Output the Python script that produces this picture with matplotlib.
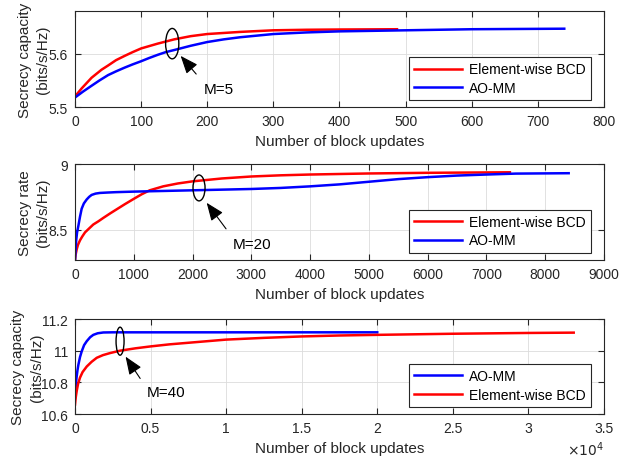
import matplotlib.pyplot as plt
from matplotlib.patches import Ellipse
from matplotlib.ticker import FuncFormatter
import numpy as np

plt.rcParams['font.family'] = ['Liberation Sans', 'DejaVu Sans']

# M = 5
m5_bcd_x = [0, 10, 25, 40, 50, 62, 75, 87, 100, 125, 150, 175, 200, 225, 250,
            300, 350, 400, 487]
m5_bcd_y = [5.520, 5.535, 5.555, 5.570, 5.578, 5.588, 5.596, 5.603, 5.610,
            5.619, 5.627, 5.633, 5.637, 5.639, 5.641, 5.644, 5.645, 5.6455,
            5.646]
m5_ao_x = [0, 12, 25, 37, 50, 62, 75, 87, 100, 112, 125, 137, 150, 175, 200,
           225, 250, 275, 300, 350, 400, 450, 500, 600, 740]
m5_ao_y = [5.518, 5.529, 5.540, 5.550, 5.560, 5.567, 5.574, 5.580, 5.586,
           5.592, 5.598, 5.603, 5.607, 5.615, 5.622, 5.627, 5.631, 5.634,
           5.637, 5.640, 5.642, 5.643, 5.644, 5.646, 5.647]

# M = 20
m20_bcd_x = [0, 10, 28, 50, 85, 125, 170, 240, 311, 400, 481, 600, 707, 850,
             1000, 1135, 1271, 1500, 1750, 2000, 2500, 3000, 3500, 4000, 5000,
             6000, 7400]
m20_bcd_y = [8.27, 8.31, 8.35, 8.385, 8.42, 8.45, 8.48, 8.51, 8.54, 8.565,
             8.59, 8.625, 8.655, 8.695, 8.735, 8.77, 8.80, 8.83, 8.852, 8.868,
             8.89, 8.905, 8.914, 8.92, 8.928, 8.933, 8.937]
m20_ao_x = [0, 10, 20, 35, 57, 85, 113, 150, 198, 240, 283, 350, 424, 550,
            700, 1000, 1500, 2000, 3000, 3500, 4000, 4500, 5000, 5500, 6000,
            6500, 7000, 7500, 8400]
m20_ao_y = [8.27, 8.35, 8.42, 8.48, 8.53, 8.60, 8.66, 8.70, 8.73, 8.75, 8.765,
            8.775, 8.78, 8.783, 8.786, 8.79, 8.795, 8.80, 8.81, 8.818, 8.83,
            8.845, 8.865, 8.885, 8.90, 8.912, 8.92, 8.927, 8.93]

# M = 40
m40_ao_x = [0, 50, 100, 160, 220, 330, 440, 600, 775, 1000, 1210, 1500, 1870,
            2500, 5000, 10000, 15000, 20000]
m40_ao_y = [10.70, 10.78, 10.83, 10.875, 10.91, 10.96, 10.995, 11.035, 11.06,
            11.085, 11.10, 11.11, 11.115, 11.116, 11.116, 11.116, 11.116,
            11.116]
m40_bcd_x = [0, 40, 110, 200, 330, 500, 775, 1100, 1435, 1850, 2320, 2980,
             4000, 5000, 6250, 7500, 10000, 12500, 15000, 17500, 20000, 25000,
             30000, 33000]
m40_bcd_y = [10.66, 10.70, 10.745, 10.79, 10.83, 10.865, 10.90, 10.93, 10.955,
             10.972, 10.985, 11.00, 11.015, 11.027, 11.04, 11.05, 11.07,
             11.081, 11.09, 11.096, 11.10, 11.107, 11.112, 11.114]

tc = '#262626'
fig = plt.figure(figsize=(6.38, 4.6), dpi=100)


def style(ax, xlim, ylim, yticks, xticks, ylabel, ylab_x):
    ax.set_xlim(xlim)
    ax.set_ylim(ylim)
    ax.set_xticks(xticks)
    ax.set_yticks(yticks)
    ax.grid(True, color='#dcdcdc', lw=0.6)
    ax.set_axisbelow(True)
    ax.tick_params(direction='in', top=True, right=True, colors=tc,
                   labelsize=10, length=4, pad=5)
    for s in ax.spines.values():
        s.set_color(tc)
        s.set_linewidth(0.8)
    ax.set_xlabel('Number of block updates', fontsize=11, color=tc, labelpad=4)
    ax.set_ylabel(ylabel, fontsize=11, color=tc, linespacing=1.4)
    ax.yaxis.set_label_coords(ylab_x, 0.5)


def legend(ax):
    lg = ax.legend(loc='lower right', bbox_to_anchor=(0.975, 0.073),
                   borderaxespad=0, fancybox=False, fontsize=10,
                   handlelength=3.4, framealpha=1, borderpad=0.4,
                   labelspacing=0.3, handletextpad=0.5)
    lg.get_frame().set_edgecolor(tc)
    lg.get_frame().set_linewidth(0.8)


def mark(ax, center, w, h, head, tail, label, textpos):
    ax.add_patch(Ellipse(center, w, h, fill=False, ec='k', lw=1.0, zorder=5))
    ax.annotate('', xy=head, xytext=tail,
                arrowprops=dict(arrowstyle='-|>,head_length=0.55,head_width=0.22',
                                color='k', lw=0.8, mutation_scale=20))
    ax.text(textpos[0], textpos[1], label, fontsize=11, va='center', ha='left')


ax1 = fig.add_axes([0.1176, 0.765, 0.829, 0.2087])
ax1.plot(m5_bcd_x, m5_bcd_y, color='#ff0000', lw=1.8, label='Element-wise BCD')
ax1.plot(m5_ao_x, m5_ao_y, color='#0000ff', lw=1.8, label='AO-MM')
style(ax1, (0, 800), (5.5, 5.68), [5.5, 5.6], range(0, 801, 100),
      'Secrecy capacity\n(bits/s/Hz)', -0.047)
legend(ax1)
mark(ax1, (147, 5.619), 20, 0.057, (157, 5.600), (186, 5.558), 'M=5',
     (195, 5.534))

ax2 = fig.add_axes([0.1176, 0.4326, 0.829, 0.2087])
ax2.plot(m20_bcd_x, m20_bcd_y, color='#ff0000', lw=1.8, label='Element-wise BCD')
ax2.plot(m20_ao_x, m20_ao_y, color='#0000ff', lw=1.8, label='AO-MM')
style(ax2, (0, 9000), (8.27, 9.0), [8.5, 9], range(0, 9001, 1000),
      'Secrecy rate\n(bits/s/Hz)', -0.047)
ax2.set_yticklabels(['8.5', '9'])
legend(ax2)
mark(ax2, (2110, 8.818), 205, 0.197, (2212, 8.722), (2598, 8.49), 'M=20',
     (2690, 8.389))

ax3 = fig.add_axes([0.1176, 0.0978, 0.829, 0.2065])
ax3.plot(m40_ao_x, m40_ao_y, color='#0000ff', lw=1.8, label='AO-MM')
ax3.plot(m40_bcd_x, m40_bcd_y, color='#ff0000', lw=1.8, label='Element-wise BCD')
style(ax3, (0, 35000), (10.6, 11.2), [10.6, 10.8, 11, 11.2],
      np.arange(0, 35001, 5000), 'Secrecy capacity\n(bits/s/Hz)', -0.059)
ax3.xaxis.set_major_formatter(FuncFormatter(lambda v, p: f'{v / 1e4:g}'))
ax3.yaxis.set_major_formatter(FuncFormatter(lambda v, p: f'{v:g}'))
legend(ax3)
mark(ax3, (2980, 11.06), 530, 0.177, (3242, 10.977), (4413, 10.81), 'M=40',
     (4744, 10.737))
ax3.text(1.0, -0.36, r'$\times10^4$', transform=ax3.transAxes, ha='right',
         va='center', fontsize=10, color=tc)

fig.savefig('out.png', dpi=100)
